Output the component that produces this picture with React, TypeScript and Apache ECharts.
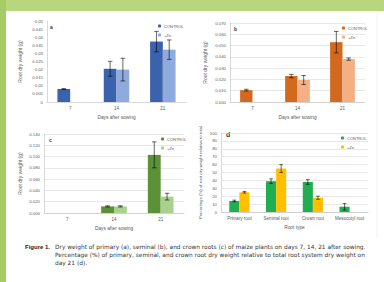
import React, { useEffect, useRef } from "react";
import * as echarts from "echarts";

const days = ["7", "14", "21"];
const rootTypes = ["Primary root", "Seminal root", "Crown root", "Mesocotyl root"];
const seriesNames = ["CONTROL", "+Zn"];

const aControl = [0.008, 0.0205, 0.0373];
const aControlErr = [0.0003, 0.0046, 0.0063];
const aTreat = [null, 0.02, 0.0323];
const aTreatErr = [null, 0.007, 0.006];

const bControl = [0.0105, 0.023, 0.053];
const bControlErr = [0.0008, 0.0015, 0.0095];
const bTreat = [null, 0.0195, 0.038];
const bTreatErr = [null, 0.004, 0.001];

const cControl = [null, 0.0117, 0.103];
const cControlErr = [null, 0.001, 0.023];
const cTreat = [null, 0.0117, 0.029];
const cTreatErr = [null, 0.001, 0.006];

const dControl = [14, 39, 38, 6.7];
const dControlErr = [1, 3, 3, 4];
const dTreat = [25, 55, 18, null];
const dTreatErr = [1, 5, 2, null];

const captionLines = [
  "Dry weight of primary (a), seminal (b), and crown roots (c) of maize plants on days 7, 14, 21 after sowing.",
  "Percentage (%) of primary, seminal, and crown root dry weight relative to total root system dry weight on",
  "day 21 (d).",
];

const GAP = 0.45;
const FONT = "Liberation Sans, Arial, sans-serif";
const CAPFONT = "DejaVu Sans, sans-serif";
const TXT = "#595959";

function errRender(side: number) {
  return (params: any, api: any) => {
    const i = api.value(0);
    const v = api.value(1);
    const e = api.value(2);
    if (isNaN(v) || isNaN(e)) return null;
    const band = api.size([1, 0])[0];
    const bw = (band * (1 - GAP)) / 2;
    const c = api.coord([i, v]);
    const x = c[0] + (side * bw) / 2;
    const top = api.coord([i, v + e])[1];
    const bot = api.coord([i, v - e])[1];
    const cap = bw * 0.18;
    const st = { stroke: "#000", lineWidth: 0.6 };
    return {
      type: "group",
      children: [
        { type: "line", shape: { x1: x, y1: top, x2: x, y2: bot }, style: st },
        { type: "line", shape: { x1: x - cap, y1: top, x2: x + cap, y2: top }, style: st },
        { type: "line", shape: { x1: x - cap, y1: bot, x2: x + cap, y2: bot }, style: st },
      ],
    };
  };
}

function errData(vals: (number | null)[], errs: (number | null)[]) {
  const out: any[] = [];
  vals.forEach((v, i) => {
    if (v != null && errs[i] != null) out.push([i, v, errs[i]]);
  });
  return out;
}

export default function App() {
  const ref = useRef<HTMLDivElement>(null);
  useEffect(() => {
    if (!ref.current) return;
    const chart = echarts.init(ref.current, null, { renderer: "svg" });

    const panels = [
      {
        id: "a", cats: days, grid: { left: 47, top: 21, width: 139, height: 81 },
        min: 0, max: 0.05, interval: 0.005, fmt: (v: number) => String(+v.toFixed(3)),
        split: false, yName: "Root dry weight (g)", yGap: 25, xName: "Days after sowing",
        colors: ["#3a62ad", "#8faadc"], ctrl: aControl, ctrlErr: aControlErr, trt: aTreat, trtErr: aTreatErr,
        legend: { left: 158, top: 24 }, label: { x: 50, y: 24 },
      },
      {
        id: "b", cats: days, grid: { left: 230, top: 23, width: 135, height: 79 },
        min: 0, max: 0.07, interval: 0.01, fmt: (v: number) => v.toFixed(3),
        split: true, yName: "Root dry weight (g)", yGap: 23, xName: "Days after sowing",
        colors: ["#d2691f", "#f4b084"], ctrl: bControl, ctrlErr: bControlErr, trt: bTreat, trtErr: bTreatErr,
        legend: { left: 342, top: 26 }, label: { x: 234, y: 26 },
      },
      {
        id: "c", cats: days, grid: { left: 44, top: 134, width: 140, height: 79 },
        min: 0, max: 0.14, interval: 0.02, fmt: (v: number) => v.toFixed(3),
        split: true, yName: "Root dry weight (g)", yGap: 22, xName: "Days after sowing",
        colors: ["#5b9237", "#a9d18e"], ctrl: cControl, ctrlErr: cControlErr, trt: cTreat, trtErr: cTreatErr,
        legend: { left: 161, top: 137 }, label: { x: 49, y: 137 },
      },
      {
        id: "d", cats: rootTypes, grid: { left: 221, top: 133, width: 147, height: 79 },
        min: 0, max: 100, interval: 10, fmt: (v: number) => String(Math.round(v)),
        split: true, yName: "Percentage (%) of root dry weight relative to total", yGap: 19, xName: "Root type",
        colors: ["#1fae52", "#ffc000"], ctrl: dControl, ctrlErr: dControlErr, trt: dTreat, trtErr: dTreatErr,
        legend: { left: 341, top: 136 }, label: { x: 226, y: 131 },
      },
    ];

    const grids: any[] = [];
    const xAxes: any[] = [];
    const yAxes: any[] = [];
    const series: any[] = [];
    const legends: any[] = [];
    const graphics: any[] = [
      { type: "rect", shape: { x: 0, y: 0, width: 384, height: 11 }, style: { fill: "#b8d77d" }, silent: true },
      { type: "rect", shape: { x: 0, y: 0, width: 6, height: 282 }, style: { fill: "#a5cc66" }, silent: true },
      { type: "line", shape: { x1: 377, y1: 12, x2: 377, y2: 238 }, style: { stroke: "#ececec", lineWidth: 0.6 } },
      {
        type: "text", left: 25, top: 244,
        style: { text: "Figure 1.", fontSize: 6, fontWeight: "bold", fontFamily: FONT, fill: "#222" },
      },
    ];
    captionLines.forEach((t, i) => {
      graphics.push({
        type: "text", left: 55, top: 244 + i * 8,
        style: { text: t, fontSize: 5.85, fontFamily: CAPFONT, fill: "#333" },
      });
    });

    panels.forEach((p, k) => {
      grids.push({ ...p.grid, containLabel: false });
      xAxes.push({
        type: "category", gridIndex: k, data: p.cats,
        axisLine: { lineStyle: { color: "#bfbfbf", width: 0.6 } },
        axisTick: { show: false },
        axisLabel: { fontSize: 4.5, color: TXT, fontFamily: FONT, margin: 4, interval: 0 },
        name: p.xName, nameLocation: "middle", nameGap: 13,
        nameTextStyle: { fontSize: 4.8, color: TXT, fontFamily: FONT },
      });
      yAxes.push({
        type: "value", gridIndex: k, min: p.min, max: p.max, interval: p.interval,
        axisLine: { show: true, lineStyle: { color: "#bfbfbf", width: 0.6 } },
        axisTick: { show: false },
        splitLine: { show: p.split, lineStyle: { color: "#d9d9d9", width: 0.6 } },
        axisLabel: { fontSize: 4.3, color: TXT, fontFamily: FONT, margin: 4, formatter: p.fmt },
        name: p.yName, nameLocation: "middle", nameGap: p.yGap, nameRotate: 90,
        nameTextStyle: { fontSize: p.id === "d" ? 4.3 : 5, color: TXT, fontFamily: FONT },
      });
      const n0 = p.id + "|" + seriesNames[0];
      const n1 = p.id + "|" + seriesNames[1];
      series.push({
        type: "bar", name: n0, xAxisIndex: k, yAxisIndex: k, data: p.ctrl.map((v) => (v == null ? "-" : v)),
        itemStyle: { color: p.colors[0] }, barGap: "0%", barCategoryGap: GAP * 100 + "%",
      });
      series.push({
        type: "bar", name: n1, xAxisIndex: k, yAxisIndex: k, data: p.trt.map((v) => (v == null ? "-" : v)),
        itemStyle: { color: p.colors[1] }, barGap: "0%", barCategoryGap: GAP * 100 + "%",
      });
      series.push({
        type: "custom", xAxisIndex: k, yAxisIndex: k, renderItem: errRender(-1),
        data: errData(p.ctrl, p.ctrlErr), encode: { x: 0, y: 1 }, z: 5,
      });
      series.push({
        type: "custom", xAxisIndex: k, yAxisIndex: k, renderItem: errRender(1),
        data: errData(p.trt, p.trtErr), encode: { x: 0, y: 1 }, z: 5,
      });
      legends.push({
        data: [n0, n1], left: p.legend.left, top: p.legend.top, orient: "vertical",
        itemWidth: 3, itemHeight: 3, itemGap: 5, selectedMode: false,
        formatter: (name: string) => name.split("|")[1],
        textStyle: { fontSize: 4, color: TXT, fontFamily: FONT, padding: [0, 0, 0, -2] },
        padding: 0,
      });
      graphics.push({
        type: "text", left: p.label.x, top: p.label.y,
        style: { text: p.id, fontSize: p.id === "d" ? 7 : 5, fontWeight: "bold", fontFamily: FONT, fill: "#333" },
      });
    });

    chart.setOption({
      animation: false,
      backgroundColor: "#ffffff",
      grid: grids,
      xAxis: xAxes,
      yAxis: yAxes,
      legend: legends,
      series,
      graphic: graphics,
    });
    return () => chart.dispose();
  }, []);
  return (
    <div
      ref={ref}
      style={{ position: "fixed", left: 0, top: 0, width: 384, height: 282 }}
    />
  );
}
